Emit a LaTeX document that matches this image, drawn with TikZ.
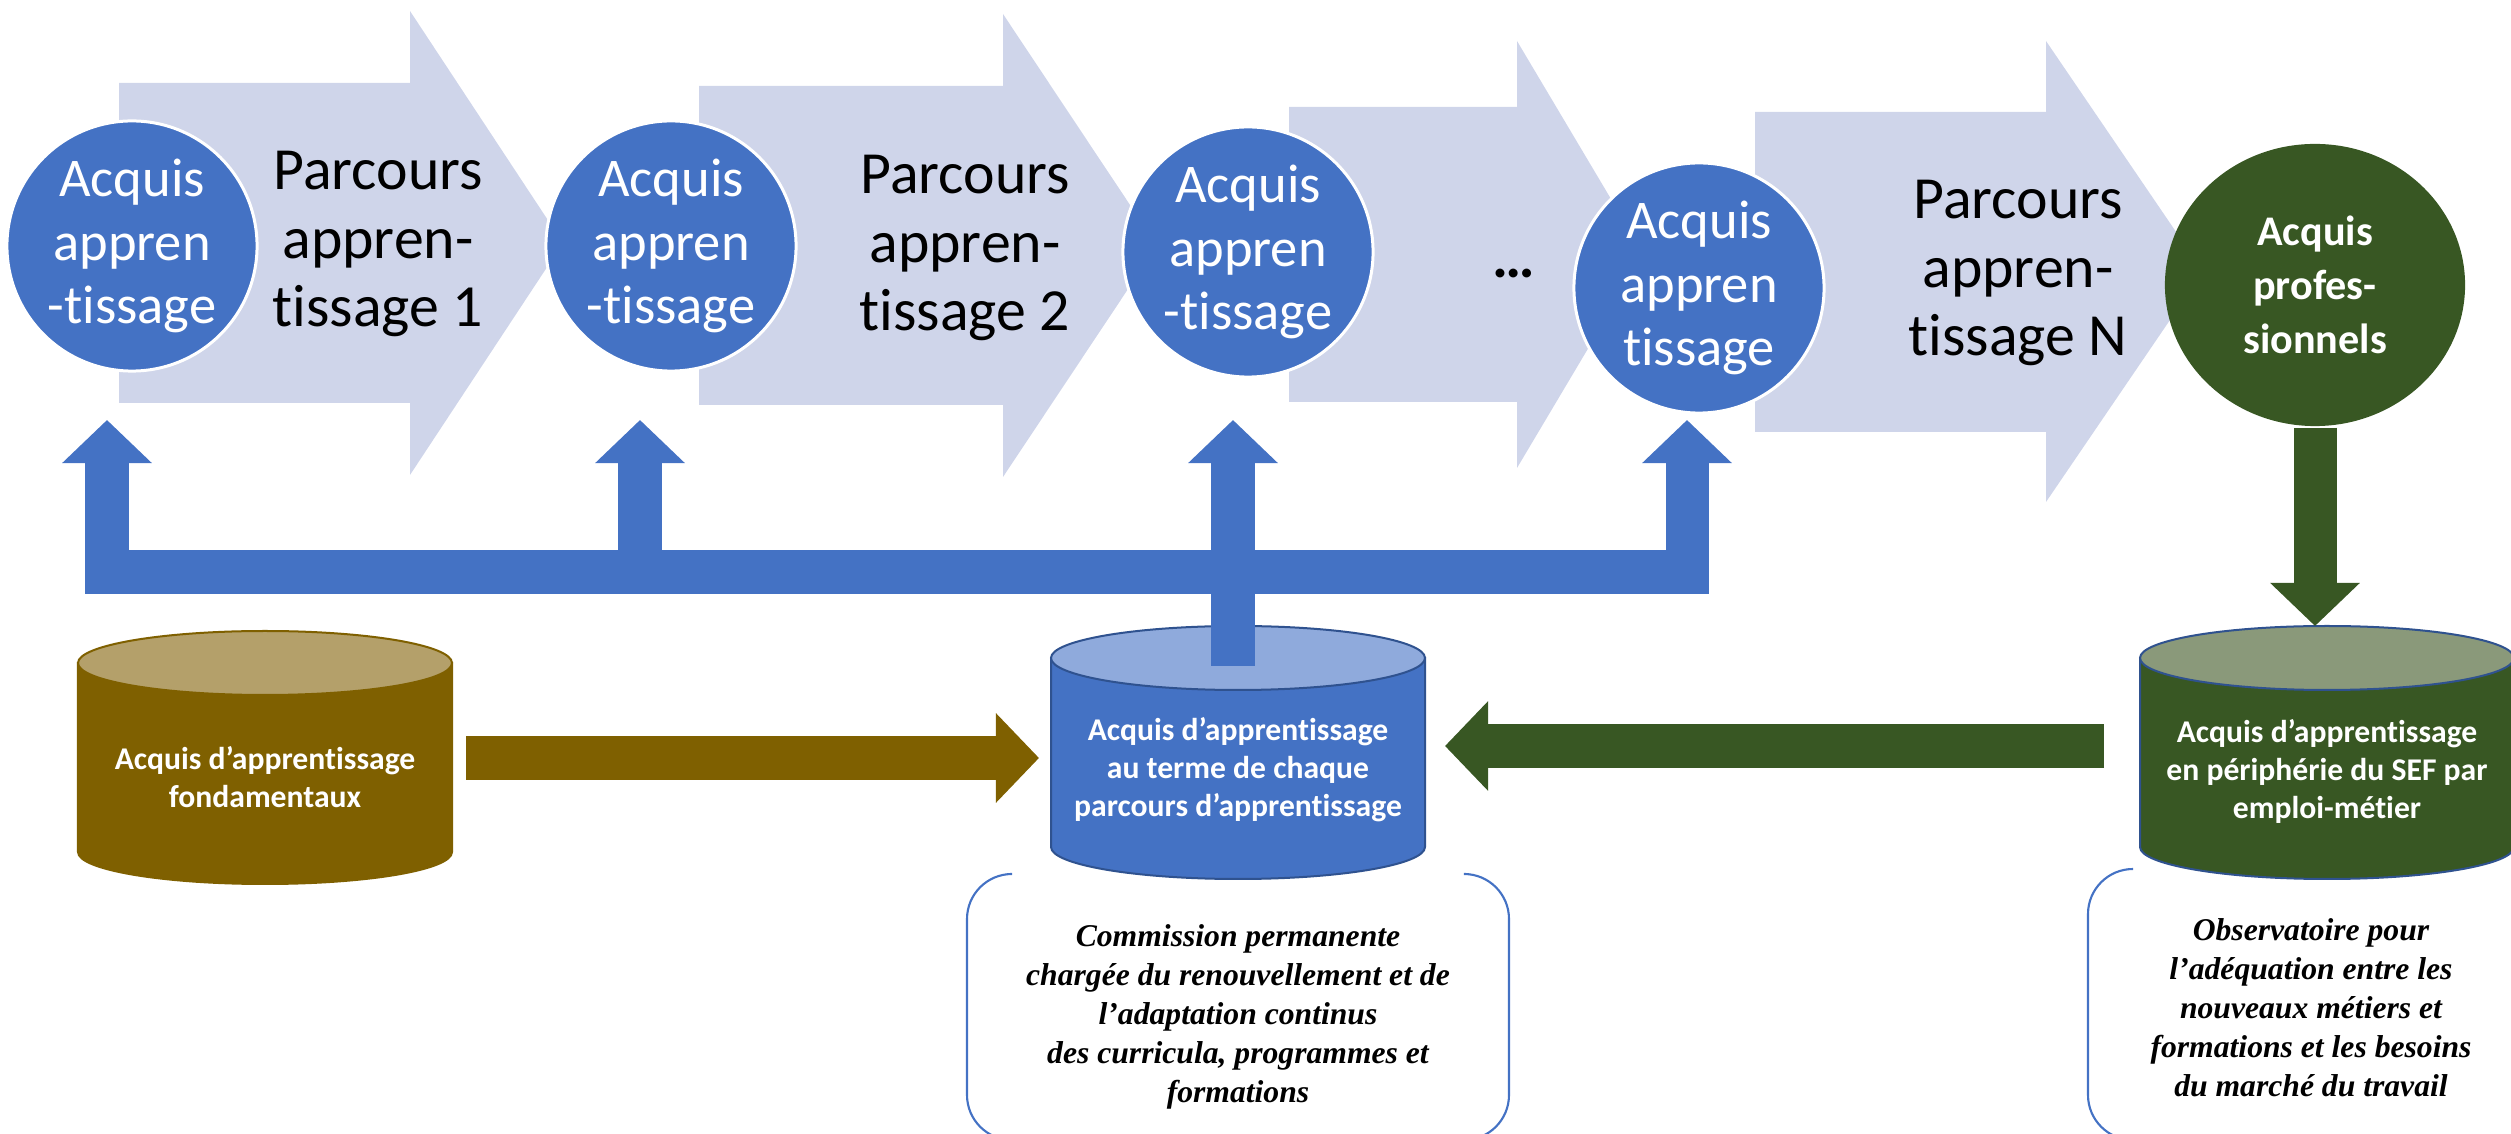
\documentclass[tikz,border=0pt]{standalone}
\usepackage{fontspec}
\setmainfont{Carlito}[Ligatures=NoCommon]
\newfontfamily\timesit{Liberation Serif}
\usepackage{tikz}
\usetikzlibrary{arrows.meta}
\usetikzlibrary{shapes.geometric}
\definecolor{chev}{HTML}{CFD5EA}
\definecolor{acqblue}{HTML}{4472C4}
\definecolor{acqbluetop}{HTML}{8FAADC}
\definecolor{acqgreen}{HTML}{385723}
\definecolor{acqgreentop}{HTML}{8A997A}
\definecolor{acqbrown}{HTML}{7F6000}
\definecolor{acqbrowntop}{HTML}{B4A06A}
\definecolor{cylline}{HTML}{2F528F}
\tikzset{
    acquis/.style={circle, fill=acqblue, draw=white, line width=0.03cm, minimum size=2.5cm, inner sep=0pt, text=white, align=center, font=\fontsize{15.5}{18}\selectfont},
    parcours/.style={align=center, font=\fontsize{17}{19.5}\selectfont},
    cyltext/.style={align=center, text=white, font=\fontsize{9}{10.8}\selectfont\bfseries},
    obstext/.style={align=center, font=\fontsize{9}{11.1}\selectfont\timesit\bfseries\itshape},
    fatarrow/.style={line width=0.43cm, -{Triangle[length=0.43cm, width=0.87cm]}},
    bracketbox/.style={acqblue, line width=0.6pt, rounded corners=0.45cm}
}
\begin{document}
\begin{tikzpicture}[x=0.01cm, y=-0.01cm]
\useasboundingbox (0,0) rectangle (2511,1134);
\foreach \xl/\yt/\yb/\xh/\yu/\yd/\xt in {119/83/403/410/11/475/563, 699/86/405/1003/14/477/1157, 1289/107/402/1517/41/468/1644, 1755/112/432/2046/41/502/2203}{
    \fill[chev] (\xl,\yt) -- (\xh,\yt) -- (\xh,\yu) -- (\xt,{(\yu+\yd)/2}) -- (\xh,\yd) -- (\xh,\yb) -- (\xl,\yb) -- cycle;
}
\foreach \p/\x/\y/\txt in {c1/132/246/{Acquis\\appren\\-tissage}, c2/671/246/{Acquis\\appren\\-tissage}, c3/1248/252/{Acquis\\appren\\-tissage}, c4/1699/288/{Acquis\\appren\\tissage}}{
    \node[acquis] (\p) at (\x,\y) {\txt};
}
\node[acquis, ellipse, fill=acqgreen, draw=none, minimum width=3cm, minimum height=2.82cm, font=\fontsize{12}{15.4}\selectfont\bfseries] (c5) at (2315,285) {Acquis\\profes-\\sionnels};
\foreach \p/\x/\y/\n in {p1/378/244/1, p2/965/248/2, p4/2018/273/N}{
    \node[parcours] (\p) at (\x,\y) {Parcours\\appren-\\tissage \n};
}
\node[parcours] (dots) at (1514,274) {\bfseries …};
\foreach \n/\cx/\ty/\body/\top/\edge in {cylA/265/663/acqbrown/acqbrowntop/acqbrown, cylB/1238/658/acqblue/acqbluetop/cylline, cylC/2327/658/acqgreen/acqgreentop/cylline}{
    \draw[fill=\body, draw=\edge, line width=0.02cm] (\cx-187,\ty) -- (\cx-187,\ty+189) arc[start angle=180, end angle=0, x radius=187, y radius=32] -- (\cx+187,\ty) -- cycle;
    \draw[fill=\top, draw=\edge, line width=0.02cm] (\cx,\ty) ellipse [x radius=187, y radius=32];
}
\node[cyltext] (cylA) at (265,777) {Acquis d’apprentissage\\fondamentaux};
\node[cyltext] (cylB) at (1238,770) {Acquis d’apprentissage\\au terme de chaque\\parcours d’apprentissage};
\node[cyltext] (cylC) at (2327,771) {Acquis d’apprentissage\\en périphérie du SEF par\\emploi-métier};
\coordinate (hub) at (1233,572);
\coordinate (hubin) at (1233,666);
\foreach \t/\x in {t1/107, t2/640, t3/1233, t4/1687}{
    \coordinate (\t) at (\x,420);
}
\draw[fatarrow, acqblue] (hub) -| (t1);
\draw[fatarrow, acqblue] (hub) -| (t4);
\draw[fatarrow, acqblue] (hub -| t2) -- (t2);
\draw[fatarrow, acqblue] (hubin) -- (t3);
\coordinate (cylCin) at (2315,626);
\draw[fatarrow, acqgreen] (c5.south) -- (cylCin);
\coordinate (brS) at (466,758);
\coordinate (brE) at (1039,758);
\draw[fatarrow, acqbrown] (brS) -- (brE);
\coordinate (grS) at (2104,746);
\coordinate (grE) at (1445,746);
\draw[fatarrow, acqgreen] (grS) -- (grE);
\draw[bracketbox] (1010,874) -- (967,874) -- (967,1140) -- (1010,1140);
\draw[bracketbox] (1466,874) -- (1509,874) -- (1509,1140) -- (1466,1140);
\draw[bracketbox] (2132,869) -- (2088,869) -- (2088,1140) -- (2132,1140);
\draw[bracketbox] (2540,869) -- (2584,869) -- (2584,1140) -- (2540,1140);
\node[obstext] (comm) at (1238,1017) {Commission permanente\\chargée du renouvellement et de\\l’adaptation continus\\des curricula, programmes et\\formations};
\node[obstext] (obs) at (2311,1008) {Observatoire pour\\l’adéquation entre les\\nouveaux métiers et\\formations et les besoins\\du marché du travail};
\end{tikzpicture}
\end{document}
